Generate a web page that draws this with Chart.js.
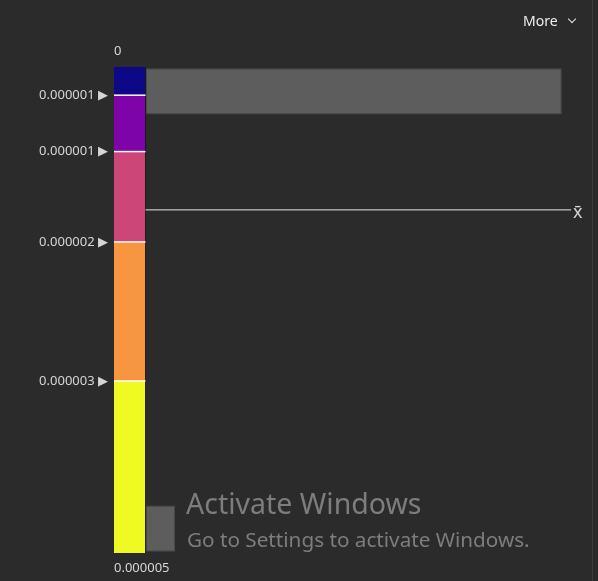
<!DOCTYPE html>
<html>
<head>
<meta charset="utf-8">
<script src="https://cdn.jsdelivr.net/npm/chart.js@4/dist/chart.umd.min.js"></script>
<style>
html,body{margin:0;padding:0;background:#2b2b2b;width:598px;height:581px;overflow:hidden;font-family:'Noto Sans',sans-serif}
#wrap{position:relative;width:598px;height:581px}
#c{position:absolute;left:0;top:0}
#more{position:absolute;left:523px;top:11px;font-size:14px;line-height:20px;color:#eeeeee}
#chev{position:absolute;left:569px;top:16px;width:5px;height:5px;border-right:1.6px solid #e6e6e6;border-bottom:1.6px solid #e6e6e6;transform:rotate(45deg)}
#wm1{position:absolute;left:186px;top:489px;font-size:28.5px;line-height:28px;color:#7d7d7d;white-space:nowrap}
#wm2{position:absolute;left:187px;top:529px;font-size:20.7px;line-height:20px;color:#7d7d7d;white-space:nowrap}
#edge{position:absolute;left:592px;top:0;width:1px;height:581px;background:#3d3d3d}
</style>
</head>
<body>
<div id="wrap">
<canvas id="c" width="598" height="581"></canvas>
<div id="more">More</div><div id="chev"></div>
<div id="wm1">Activate Windows</div>
<div id="wm2">Go to Settings to activate Windows.</div>
<div id="edge"></div>
</div>
<script>
// ---- data ----
const classBreaks = [0, 0.00000029, 0.00000087, 0.0000018, 0.00000323, 0.000005];
const classColors = ['#0d0887', '#7e03a8', '#cc4778', '#f89540', '#f0f921'];
const breakLabels = ['0.000001', '0.000001', '0.000002', '0.000003'];
const minLabel = '0';
const maxLabel = '0.000005';
const histBinCenters = [0.00000025, 0.00000075, 0.00000125, 0.00000175, 0.00000225,
                        0.00000275, 0.00000325, 0.00000375, 0.00000425, 0.00000475];
const histCounts = [14, 0, 0, 0, 0, 0, 0, 0, 0, 1];
const meanValue = 0.00000147;
const meanLabel = 'x\u0304';

// ---- layout constants (axis extents in count units) ----
const COLORBAR_SPAN = 1.06;
const COUNT_MAX = 14.31;
const VMAX = classBreaks[classBreaks.length - 1];
const textColor = '#d6d6d6';
const FONT = "'Noto Sans', 'DejaVu Sans', sans-serif";

const datasets = [];
classBreaks.forEach((v, k) => {
  const interior = k > 0 && k < classBreaks.length - 1;
  datasets.push({
    type: 'line', indexAxis: 'x', xAxisID: 'x', yAxisID: 'y',
    data: [{x: -COLORBAR_SPAN, y: v}, {x: 0, y: v}],
    borderColor: interior ? '#ffffff' : 'rgba(0,0,0,0)',
    borderWidth: interior ? 1.5 : 0,
    pointRadius: 0,
    fill: k < classColors.length ? '+1' : false,
    backgroundColor: classColors[k] || 'rgba(0,0,0,0)'
  });
});
datasets.push({
  type: 'line', indexAxis: 'x', xAxisID: 'x', yAxisID: 'y',
  data: [{x: 0, y: meanValue}, {x: COUNT_MAX, y: meanValue}],
  borderColor: '#e8e8e8', borderWidth: 1, pointRadius: 0, fill: false
});
datasets.push({
  type: 'line', indexAxis: 'y', xAxisID: 'x', yAxisID: 'y',
  data: [{x: 0, y: 0}, {x: 0, y: VMAX}],
  borderColor: 'rgba(20,20,20,0.35)', borderWidth: 1, pointRadius: 0, fill: false
});
datasets.push({
  type: 'bar', indexAxis: 'y', xAxisID: 'x', yAxisID: 'y',
  data: histBinCenters.map((c, i) => ({y: c, x: histCounts[i]})),
  backgroundColor: '#5d5d5d', borderColor: '#4a4a4a', borderWidth: 1,
  borderSkipped: false, barPercentage: 0.95, categoryPercentage: 1
});

new Chart(document.getElementById('c'), {
  type: 'bar',
  data: {datasets},
  options: {
    responsive: false, animation: false, events: [],
    indexAxis: 'y',
    layout: {padding: 0},
    plugins: {legend: {display: false}, tooltip: {enabled: false}, filler: {drawTime: 'beforeDatasetsDraw'}},
    scales: {
      x: {
        type: 'linear', position: 'bottom', min: -COLORBAR_SPAN, max: COUNT_MAX,
        ticks: {display: false}, grid: {display: false, drawTicks: false}, border: {display: false},
        title: {display: true, text: maxLabel, align: 'start', color: textColor,
                font: {family: FONT, size: 13}, padding: {top: 0, bottom: 5}},
        afterFit(s) { s.height = 28; }
      },
      xt: {
        type: 'linear', position: 'top', min: 0, max: 1,
        ticks: {display: false}, grid: {display: false, drawTicks: false}, border: {display: false},
        title: {display: true, text: minLabel, align: 'start', color: textColor,
                font: {family: FONT, size: 13}, padding: {top: 43, bottom: 0}},
        afterFit(s) { s.height = 67; }
      },
      y: {
        type: 'linear', position: 'left', min: 0, max: VMAX, reverse: true, offset: false,
        grid: {display: false, drawTicks: false}, border: {display: false},
        afterBuildTicks(s) { s.ticks = classBreaks.slice(1, -1).map(v => ({value: v})); },
        ticks: {padding: 6, color: textColor, autoSkip: false, font: {family: FONT, size: 13},
                callback: (v, i) => breakLabels[i] + ' \u25B6'},
        afterFit(s) { s.width = 114; }
      },
      y2: {
        type: 'linear', position: 'right', min: 0, max: VMAX, reverse: true, offset: false,
        grid: {display: false, drawTicks: false}, border: {display: false},
        afterBuildTicks(s) { s.ticks = [{value: meanValue}]; },
        ticks: {padding: 2, color: textColor, autoSkip: false, labelOffset: 3,
                font: {family: FONT, size: 18}, callback: () => meanLabel},
        afterFit(s) { s.width = 27; }
      }
    }
  }
});
</script>
</body>
</html>
